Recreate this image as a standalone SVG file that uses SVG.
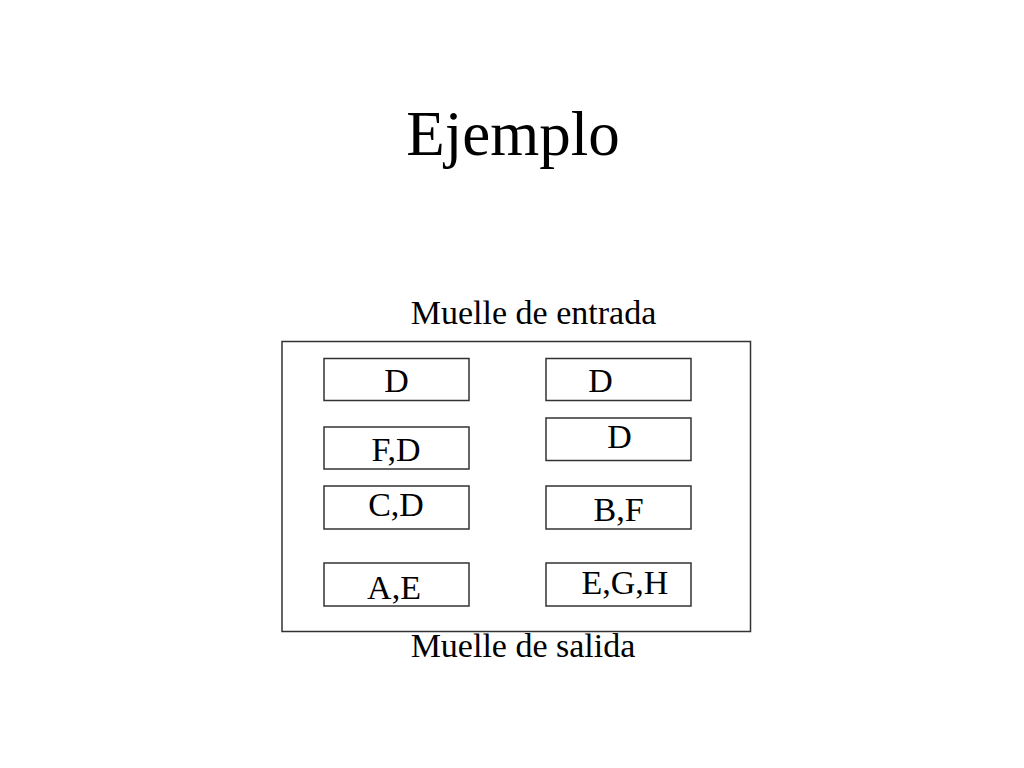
<svg xmlns="http://www.w3.org/2000/svg" width="1024" height="768" viewBox="0 0 1024 768">
<style>
.t{font-family:"Liberation Serif","Times New Roman",serif;fill:#000}
.lbl{font-size:34px;text-anchor:middle}
.box{fill:#fff;stroke:#333;stroke-width:1.5}
</style>
<rect width="1024" height="768" fill="#fff"/>
<text class="t" x="513" y="155" font-size="63" text-anchor="middle">Ejemplo</text>
<text class="t lbl" x="533.5" y="324">Muelle de entrada</text>
<g id="muelle">
<rect class="box" x="282" y="341.5" width="468.5" height="290"/>
</g>
<g id="n1"><rect class="box" x="324" y="358.5" width="145" height="42"/><text class="t lbl" x="396.5" y="392">D</text></g>
<g id="n2"><rect class="box" x="324" y="427" width="145" height="42"/><text class="t lbl" x="396" y="461">F,D</text></g>
<g id="n3"><rect class="box" x="324" y="486" width="145" height="43"/><text class="t lbl" x="396" y="516">C,D</text></g>
<g id="n4"><rect class="box" x="324" y="563" width="145" height="43"/><text class="t lbl" x="394" y="598.5">A,E</text></g>
<g id="n5"><rect class="box" x="546" y="358.5" width="145" height="42"/><text class="t lbl" x="600.5" y="392">D</text></g>
<g id="n6"><rect class="box" x="546" y="418" width="145" height="42.5"/><text class="t lbl" x="619.5" y="447.5">D</text></g>
<g id="n7"><rect class="box" x="546" y="486" width="145" height="43"/><text class="t lbl" x="618.5" y="521">B,F</text></g>
<g id="n8"><rect class="box" x="546" y="563" width="145" height="43"/><text class="t lbl" x="625" y="593.5">E,G,H</text></g>
<g id="connectors"></g>
<text class="t lbl" x="523" y="657">Muelle de salida</text>
</svg>
